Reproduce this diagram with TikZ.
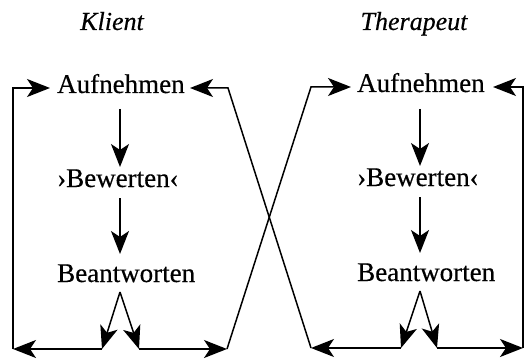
\documentclass[tikz,border=0pt]{standalone}
\usepackage{fontspec}
\setmainfont{Liberation Serif}[FakeBold=0.4]
\newfontfamily\titlefont{Liberation Serif}[FakeBold=0.4]
\usetikzlibrary{arrows.meta}
\begin{document}
\begin{tikzpicture}[x=1pt,y=-1pt,
  lbl/.style={inner sep=0pt, anchor=base west, font=\fontsize{27}{30}\selectfont, text height=17pt, text depth=5pt},
  ttl/.style={inner sep=0pt, anchor=base, font=\titlefont\fontsize{26}{30}\selectfont\itshape},
  arr/.style={line width=1.5pt, -{Stealth[length=23pt,width=18pt,inset=6pt]}},
  ln/.style={line width=1.5pt}]
\useasboundingbox (0,0) rectangle (526,358);
% titles
\node[ttl] (k) at (112,30) {Klient};
\node[ttl] (t) at (414,30) {Therapeut};
% left column
\node[lbl] (a1) at (57,93) {Aufnehmen};
\node[lbl] (w1) at (57,187) {›Bewerten‹};
\node[lbl] (b1) at (57,282) {Beantworten};
% right column
\node[lbl] (a2) at (357,92) {Aufnehmen};
\node[lbl] (w2) at (357,186) {›Bewerten‹};
\node[lbl] (b2) at (357,281) {Beantworten};
% coordinates
\coordinate (s1a) at (120,109); \coordinate (e1a) at (120,167);
\coordinate (s1b) at (120,198); \coordinate (e1b) at (120,254);
\coordinate (s2a) at (420,109); \coordinate (e2a) at (420,166);
\coordinate (s2b) at (420,197); \coordinate (e2b) at (420,253);
\coordinate (f1) at (120,292); \coordinate (f2) at (420,291);
\coordinate (bl1) at (102,349); \coordinate (br1) at (139,349);
\coordinate (bl2) at (401,348); \coordinate (br2) at (437,348);
\coordinate (cl1) at (13,349); \coordinate (cr1) at (227,349);
\coordinate (cl2) at (311,348); \coordinate (cr2) at (523,348);
\coordinate (tl1) at (13,88); \coordinate (tr1) at (228,88);
\coordinate (tl2) at (311,87); \coordinate (tr2) at (523,87);
\coordinate (ha1) at (50,88); \coordinate (hb1) at (190,88);
\coordinate (ha2) at (351,87); \coordinate (hb2) at (493,87);
% vertical flow
\draw[arr] (s1a) -- (e1a);
\draw[arr] (s1b) -- (e1b);
\draw[arr] (s2a) -- (e2a);
\draw[arr] (s2b) -- (e2b);
% forks
\draw[arr] (f1) -- (bl1);
\draw[arr] (f1) -- (br1);
\draw[arr] (f2) -- (bl2);
\draw[arr] (f2) -- (br2);
% bottom lines
\draw[arr] (bl1) -- (cl1);
\draw[arr] (br1) -- (cr1);
\draw[arr] (bl2) -- (cl2);
\draw[arr] (br2) -- (cr2);
% returns
\draw[arr] (cl1) -- (tl1) -- (ha1);
\draw[arr] (cl2) -- (tr1) -- (hb1);
\draw[arr] (cr1) -- (tl2) -- (ha2);
\draw[arr] (cr2) -- (tr2) -- (hb2);
\end{tikzpicture}
\end{document}
